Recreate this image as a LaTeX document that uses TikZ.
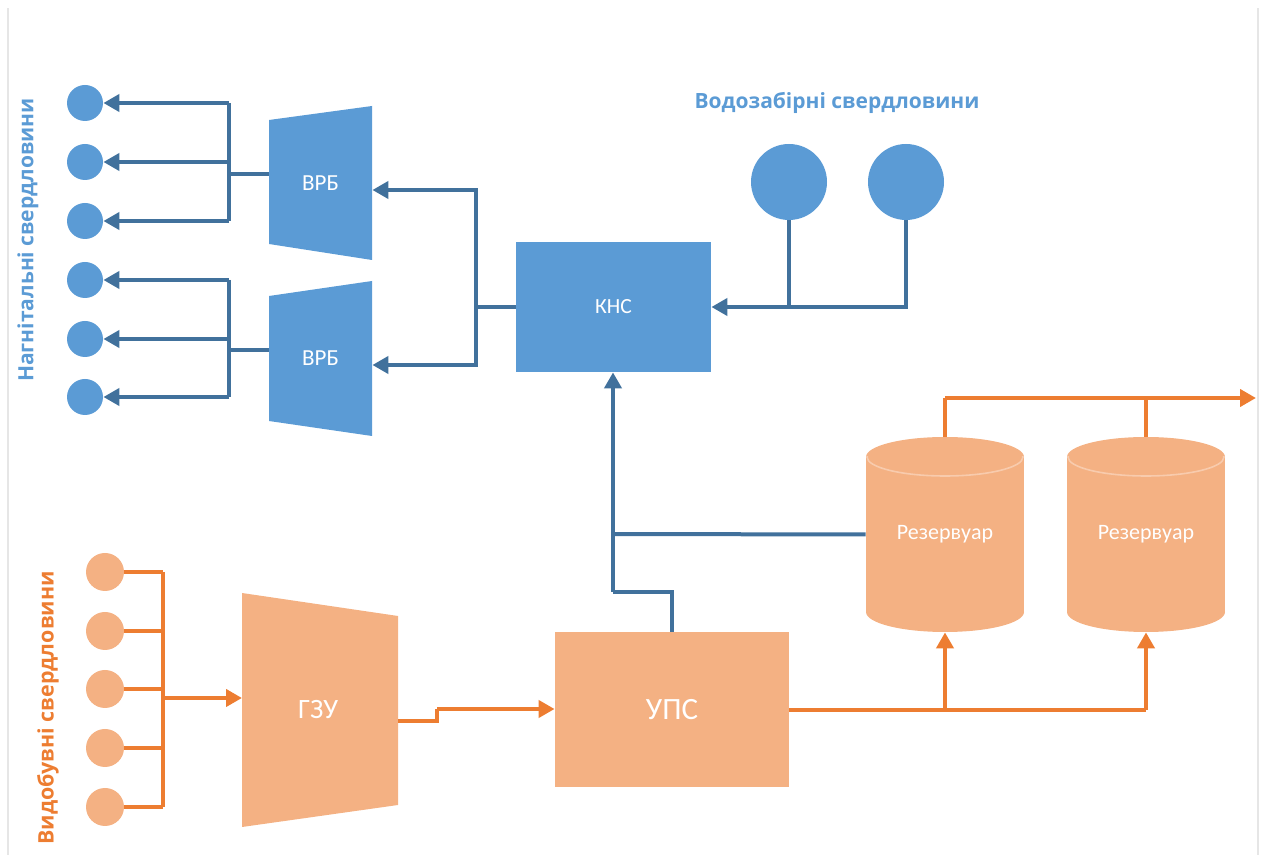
\documentclass[tikz,border=0pt]{standalone}
\usepackage{fontspec}
\setmainfont{Carlito}
\newfontfamily\headfont{Open Sans}
\usetikzlibrary{arrows.meta}

\definecolor{bluefill}{HTML}{5B9BD5}
\definecolor{blueline}{HTML}{41719C}
\definecolor{orangefill}{HTML}{F4B183}
\definecolor{orangeline}{HTML}{ED7D31}
\definecolor{rimline}{HTML}{F8CBAD}
\definecolor{frameline}{HTML}{E6E6E6}

\tikzset{
  bpipe/.style={draw=blueline, line width=2pt},
  opipe/.style={draw=orangeline, line width=2pt},
  tip/.style={-{Triangle[length=8pt,width=8.5pt]}},
  bwell/.style={circle, fill=bluefill, inner sep=0pt, minimum size=18pt},
  owell/.style={circle, fill=orangefill, inner sep=0pt, minimum size=19pt},
  srcwell/.style={circle, fill=bluefill, inner sep=0pt, minimum size=38pt},
  blabel/.style={text=white, font=\fontsize{11.5}{13}\selectfont},
  klabel/.style={text=white, font=\fontsize{10.8}{13}\selectfont},
  olabel/.style={text=white, font=\fontsize{11}{13}\selectfont},
  bigolabel/.style={text=white, font=\fontsize{15.5}{18}\selectfont},
  heading/.style={font=\headfont\bfseries\fontsize{10.5}{12}\selectfont},
}

\begin{document}
\begin{tikzpicture}[x=0.5pt,y=-0.5pt]
\useasboundingbox (0,0) rectangle (1266,855);

% thin page frame lines
\draw[frameline, line width=0.6pt] (8,8) -- (8,855);
\draw[frameline, line width=0.6pt] (1258,8) -- (1258,855);

% ---------- injection side (blue) ----------
\node[heading, text=bluefill, rotate=90] (injtitle) at (28,240) {Нагнітальні свердловини};

\foreach \i/\y in {1/103,2/162,3/221,4/280,5/339,6/397}
  \node[bwell] (inj\i) at (85,\y) {};

% distribution blocks ВРБ
\fill[bluefill] (269,120) -- (372,106) -- (372,260) -- (269,244) -- cycle;
\node[blabel, minimum width=51.5pt, minimum height=62pt, inner sep=0pt] (vrb1) at (320.5,183) {ВРБ};
\fill[bluefill] (269,296) -- (372,281) -- (372,436) -- (269,421) -- cycle;
\node[blabel, minimum width=51.5pt, minimum height=62pt, inner sep=0pt] (vrb2) at (320.5,358.5) {ВРБ};

% cluster pump station
\node[fill=bluefill, klabel, minimum width=97.5pt, minimum height=65pt, inner sep=0pt] (kns) at (613.5,307) {КНС};

% water-intake wells
\node[heading, text=bluefill] (srctitle) at (837,103) {Водозабірні свердловини};
\node[srcwell] (src1) at (789,182) {};
\node[srcwell] (src2) at (906,182) {};

% bus points
\coordinate (b1top) at (229,103);
\coordinate (b1bot) at (229,221);
\coordinate (b1in) at (229,174);
\coordinate (b2top) at (229,280);
\coordinate (b2bot) at (229,397);
\coordinate (b2in) at (229,350);
\coordinate (kbus) at (476,307);
\coordinate (srcjoin) at (789,307);

% ВРБ -> injection wells
\draw[bpipe] (b1top) -- (b1bot);
\draw[bpipe] (b2top) -- (b2bot);
\foreach \i in {1,2,3}
  \draw[bpipe, tip] (b1top |- inj\i) -- (inj\i.east);
\foreach \i in {4,5,6}
  \draw[bpipe, tip] (b2top |- inj\i) -- (inj\i.east);
\draw[bpipe] (vrb1.west |- b1in) -- (b1in);
\draw[bpipe] (vrb2.west |- b2in) -- (b2in);

% КНС -> ВРБ
\draw[bpipe] (kns.west) -- (kbus);
\draw[bpipe, tip] (kbus) |- ([yshift=-3.5pt]vrb1.east);
\draw[bpipe, tip] (kbus) |- ([yshift=-3.25pt]vrb2.east);

% water wells -> КНС
\draw[bpipe] (src1.south) -- (srcjoin);
\draw[bpipe, tip] (src2.south) |- (kns.east);

% ---------- production side (orange) ----------
\node[heading, text=orangeline, rotate=90, font=\headfont\bfseries\fontsize{10.7}{13}\selectfont] (prodtitle) at (48,708) {Видобувні свердловини};

\foreach \i/\y in {1/572,2/631,3/689,4/748,5/807}
  \node[owell] (prod\i) at (105,\y) {};

% group metering unit ГЗУ
\fill[orangefill] (242,593) -- (398,616) -- (398,805) -- (242,827) -- cycle;
\node[bigolabel, font=\fontsize{14}{16}\selectfont, minimum width=78pt, minimum height=94.5pt, inner sep=0pt] (gzu) at (318,710) {ГЗУ};

% preliminary water discharge unit УПС
\node[fill=orangefill, bigolabel, minimum width=117pt, minimum height=77.5pt, inner sep=0pt] (ups) at (672,709.5) {УПС};

% reservoirs
\foreach \n/\cx in {res1/945,res2/1146}{
  \fill[orangefill] (\cx-79,457) rectangle (\cx+79,612);
  \fill[orangefill] (\cx,612) ellipse [x radius=79, y radius=20];
  \fill[orangefill] (\cx,457) ellipse [x radius=79, y radius=20];
  \begin{scope}
    \clip (\cx-80,457) rectangle (\cx+80,480);
    \draw[rimline, line width=0.8pt] (\cx,457) ellipse [x radius=78, y radius=19];
  \end{scope}
  \node[olabel, minimum width=79pt, minimum height=97.5pt, inner sep=0pt] (\n) at (\cx,534.5) {Резервуар};
}

% bus points
\coordinate (obus) at (163,698);
\coordinate (obustop) at (163,572);
\coordinate (obusbot) at (163,807);
\coordinate (jog) at (437,721);
\coordinate (upsup) at (672,592);
\coordinate (upjoin) at (613,592);
\coordinate (resjoin) at (613,534);
\coordinate (split1) at (945,710);
\coordinate (split2) at (1146,710);
\coordinate (topjoin1) at (945,398);
\coordinate (outlet) at (1256,398);

% wells -> ГЗУ
\draw[opipe] (obustop) -- (obusbot);
\foreach \i in {1,...,5}
  \draw[opipe] (prod\i.east) -- (obustop |- prod\i);
\draw[opipe, tip] (obus) -- (242,698);

% ГЗУ -> УПС
\draw[opipe] (398,721) -- (jog) -- ([yshift=6pt]jog);
\draw[opipe, tip] ([yshift=6pt]jog) -- (ups.west |- {(0,709)});

% УПС -> reservoirs
\draw[opipe] (ups.east |- split1) -- (split2);
\draw[opipe, tip] (split1) -- (res1.south);
\draw[opipe, tip] (split2) -- (res2.south);

% reservoirs -> outlet
\draw[opipe] (res1.north) -- (topjoin1);
\draw[opipe, tip] (topjoin1) -- (outlet);
\draw[opipe] (res2.north) -- (res2.north |- outlet);

% separated water back to КНС
\draw[bpipe] (ups.north -| upsup) -- (upsup) -- (upjoin);
\draw[bpipe, tip] (upjoin) -- (kns.south -| upjoin);
\draw[bpipe] (resjoin) -- (res1.west);
\end{tikzpicture}
\end{document}
